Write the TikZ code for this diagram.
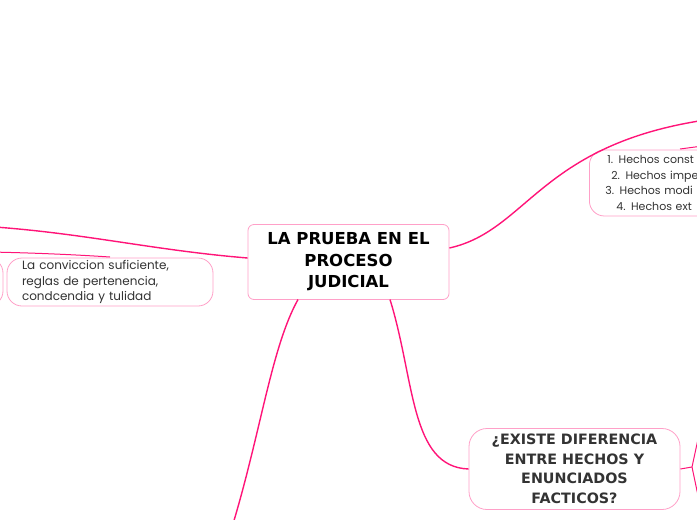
\documentclass[tikz,border=0pt]{standalone}
\usepackage{fontspec}
\setmainfont{Poppins}
\newfontfamily\topicfont{DejaVu Sans}
\definecolor{linkpink}{RGB}{255,20,120}
\definecolor{boxpink}{RGB}{255,160,200}
\definecolor{inkgrey}{RGB}{51,51,51}

\begin{document}
\begin{tikzpicture}[x=1pt, y=-1pt,
	link/.style={draw=linkpink, line width=1.4pt},
	topicbox/.style={draw=boxpink, line width=0.8pt, fill=white, rounded corners=6pt, align=center, inner sep=0pt},
	notebox/.style={draw=boxpink, line width=0.8pt, fill=white, rounded corners=15pt, inner sep=0pt, text=inkgrey, font=\fontsize{12}{15.5}\selectfont}]
	
	\useasboundingbox (0,0) rectangle (697,520);
	\clip (0,0) rectangle (697,520);
	
	% far ends of branches leaving the picture
	\coordinate (offleft) at (-20,226);
	\coordinate (offleftb) at (-10,252);
	\coordinate (offtop) at (720,118);
	\coordinate (offhechos) at (710,145);
	\coordinate (offdown) at (228,540);
	\coordinate (fork) at (692,467);
	\coordinate (forkup) at (700,430);
	\coordinate (forkdown) at (700,505);
	\coordinate (convtop) at (110,257);
	
	\node[topicbox, minimum width=201pt, minimum height=75pt, text=black, font=\topicfont\fontsize{16.5}{21.5}\selectfont\bfseries] (root) at (348.5,262) {LA PRUEBA EN EL\\PROCESO\\JUDICIAL};
	\node[notebox, minimum width=206pt, minimum height=48pt, text width=176pt, align=left] (conv) at (110,282) {La conviccion suficiente,\\reglas de pertenencia,\\condcendia y tulidad};
	\node[notebox, minimum width=106pt, minimum height=48pt] (leftnote) at (-50,282) {};
	\node[notebox, anchor=west, minimum height=66pt, minimum width=170pt, text width=140pt, inner xsep=16pt, align=left, font=\fontsize{11}{15.5}\selectfont] (hechos) at (589,183) {\hspace*{2pt}1. Hechos const\\\hspace*{6pt}2. Hechos impe\\3. Hechos modi\\\hspace*{11pt}4. Hechos ext};
	\node[topicbox, rounded corners=18pt, minimum width=211pt, minimum height=81pt, text=inkgrey, font=\topicfont\fontsize{14.3}{19.5}\selectfont\bfseries] (existe) at (574.5,469) {¿EXISTE DIFERENCIA\\ENTRE HECHOS Y\\ENUNCIADOS\\FACTICOS?};
	
	\draw[link] (root.west) ++(0,-4) .. controls (150,250) and (80,232) .. (offleft);
	\draw[link, line width=1pt] (offleftb) .. controls (40,253) and (80,255) .. (convtop);
	\draw[link] (root.east) ++(0,-14) .. controls (530,230) and (540,140) .. (offtop);
	\draw[link, line width=1pt] (680,149) -- (offhechos);
	\draw[link] (298,299.5) .. controls (270,350) and (260,440) .. (offdown);
	\draw[link] (390,299.5) .. controls (415,380) and (410,467) .. (existe.west);
	\draw[link, line width=1pt] (existe.east) -- (fork) -- (forkup);
	\draw[link, line width=1pt] (fork) -- (forkdown);
	
\end{tikzpicture}
\end{document}
